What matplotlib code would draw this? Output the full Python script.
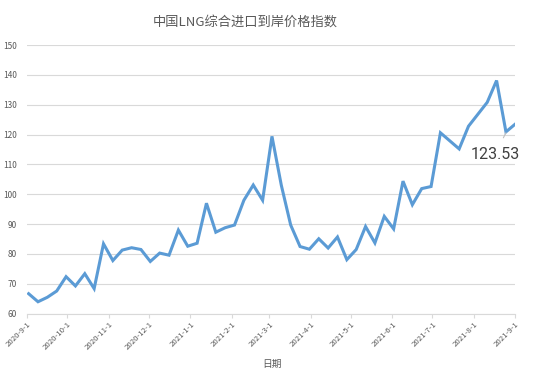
import matplotlib
matplotlib.use('Agg')
import matplotlib.pyplot as plt
import pandas as pd

plt.rcParams['font.family'] = ['Noto Sans CJK SC', 'DejaVu Sans']

# weekly index values, 2020-9-2 .. 2021-9-1
dates = pd.date_range('2020-09-02', '2021-09-01', freq='7D')
values = [66.7, 64.0, 65.5, 67.6, 72.4, 69.3, 73.4, 68.4, 83.4, 77.8,
          81.3, 82.1, 81.5, 77.5, 80.3, 79.6, 88.0, 82.6, 83.6, 97.0,
          87.3, 88.8, 89.7, 98.0, 103.1, 98.0, 119.4, 103.0, 89.7, 82.5,
          81.6, 85.1, 82.0, 85.7, 78.1, 81.5, 89.2, 83.7, 92.6, 88.4,
          104.4, 96.5, 101.9, 102.6, 120.6, 117.9, 115.2, 122.8, 126.8, 130.8,
          138.1, 120.9, 123.53]
tick_dates = pd.date_range('2020-09-01', '2021-09-01', freq='MS')
tick_labels = [f"{d.year}-{d.month}-{d.day}" for d in tick_dates]
y_ticks = [60, 70, 80, 90, 100, 110, 120, 130, 140, 150]

title = '中国LNG综合进口到岸价格指数'
x_label = '日期'
last_label = '123.53'

W, H = 546, 374
fig = plt.figure(figsize=(W / 100, H / 100), dpi=100)
fig.patch.set_facecolor('white')

ax = fig.add_axes([27.3 / W, 60.3 / H, 488 / W, 268.7 / H])

ax.plot(dates, values, color='#5b9bd5', lw=2.2, solid_joinstyle='miter', zorder=3)

ax.set_ylim(60, 150)
ax.set_xlim(pd.Timestamp('2020-09-01'), pd.Timestamp('2021-09-01'))
ax.set_yticks(y_ticks)
ax.set_xticks(tick_dates)
ax.set_xticklabels(tick_labels, rotation=45, ha='right', rotation_mode='anchor')

ax.grid(axis='y', color='#d9d9d9', lw=0.8)
ax.set_axisbelow(True)
for s in ['top', 'right', 'left']:
    ax.spines[s].set_visible(False)
ax.spines['bottom'].set_color('#d9d9d9')
ax.spines['bottom'].set_linewidth(0.8)

ax.tick_params(axis='y', length=0, pad=7.5, labelsize=6, labelcolor='#595959')
ax.tick_params(axis='x', length=3, width=0.8, color='#d9d9d9', pad=2,
               labelsize=5.6, labelcolor='#595959')

# data label for the last point
ax.annotate(last_label, xy=(dates[-1] - pd.Timedelta(days=7), values[-2] - 0.3),
            xytext=(-11, -21.5), textcoords='offset pixels',
            fontsize=11.5, color='#404040', family=['Roboto', 'DejaVu Sans'],
            ha='center', va='center', zorder=4,
            arrowprops=dict(arrowstyle='-', color='#bfbfbf', lw=0.8,
                            shrinkA=5, shrinkB=0))

fig.text(245 / W, 1 - 22 / H, title, ha='center', va='center',
         fontsize=9.5, color='#595959')
fig.text(271.5 / W, 1 - 364 / H, x_label, ha='center', va='center',
         fontsize=7, color='#595959')

fig.savefig('out.png', dpi=100)
